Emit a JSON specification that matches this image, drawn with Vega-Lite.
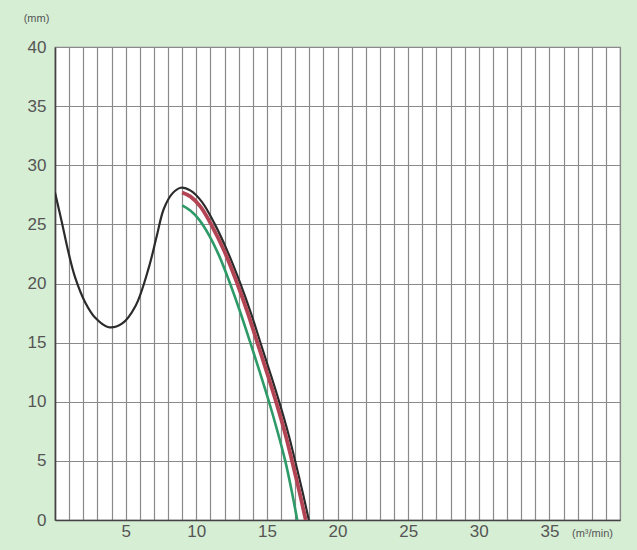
{
  "$schema": "https://vega.github.io/schema/vega-lite/v6.json",
  "autosize": "none",
  "width": 565,
  "height": 473,
  "padding": {"left": 55, "top": 47, "right": 17, "bottom": 30},
  "background": "#d6eed4",
  "config": {
    "view": {"fill": "#ffffff", "stroke": "#8a8a8a", "strokeWidth": 1.2},
    "font": "Liberation Sans"
  },
  "data": {
    "values": [
      {"series": "Black", "x": 0.0, "y": 27.7},
      {"series": "Black", "x": 0.48, "y": 25.2},
      {"series": "Black", "x": 0.96, "y": 22.6},
      {"series": "Black", "x": 1.43, "y": 20.5},
      {"series": "Black", "x": 2.14, "y": 18.4},
      {"series": "Black", "x": 2.85, "y": 17.1},
      {"series": "Black", "x": 3.8, "y": 16.3},
      {"series": "Black", "x": 4.74, "y": 16.6},
      {"series": "Black", "x": 5.7, "y": 18.1},
      {"series": "Black", "x": 6.63, "y": 21.3},
      {"series": "Black", "x": 7.2, "y": 24.0},
      {"series": "Black", "x": 7.7, "y": 26.3},
      {"series": "Black", "x": 8.3, "y": 27.6},
      {"series": "Black", "x": 8.9, "y": 28.1},
      {"series": "Black", "x": 9.6, "y": 27.85},
      {"series": "Black", "x": 10.4, "y": 26.9},
      {"series": "Black", "x": 11.32, "y": 25.0},
      {"series": "Black", "x": 12.22, "y": 22.7},
      {"series": "Black", "x": 13.12, "y": 20.0},
      {"series": "Black", "x": 13.87, "y": 17.5},
      {"series": "Black", "x": 14.57, "y": 14.9},
      {"series": "Black", "x": 15.27, "y": 12.3},
      {"series": "Black", "x": 15.92, "y": 9.8},
      {"series": "Black", "x": 16.52, "y": 7.3},
      {"series": "Black", "x": 17.02, "y": 4.9},
      {"series": "Black", "x": 17.52, "y": 2.4},
      {"series": "Black", "x": 17.97, "y": 0.0},
      {"series": "Red", "x": 9.0, "y": 27.7},
      {"series": "Red", "x": 9.6, "y": 27.35},
      {"series": "Red", "x": 10.3, "y": 26.5},
      {"series": "Red", "x": 11.1, "y": 24.9},
      {"series": "Red", "x": 12.0, "y": 22.7},
      {"series": "Red", "x": 12.9, "y": 20.0},
      {"series": "Red", "x": 13.65, "y": 17.5},
      {"series": "Red", "x": 14.35, "y": 14.9},
      {"series": "Red", "x": 15.05, "y": 12.3},
      {"series": "Red", "x": 15.7, "y": 9.8},
      {"series": "Red", "x": 16.3, "y": 7.3},
      {"series": "Red", "x": 16.8, "y": 4.9},
      {"series": "Red", "x": 17.3, "y": 2.4},
      {"series": "Red", "x": 17.75, "y": 0.0},
      {"series": "Green", "x": 9.0, "y": 26.6},
      {"series": "Green", "x": 9.6, "y": 26.15},
      {"series": "Green", "x": 10.2, "y": 25.4},
      {"series": "Green", "x": 10.9, "y": 24.1},
      {"series": "Green", "x": 11.6, "y": 22.4},
      {"series": "Green", "x": 12.3, "y": 20.3},
      {"series": "Green", "x": 13.05, "y": 17.8},
      {"series": "Green", "x": 13.8, "y": 15.1},
      {"series": "Green", "x": 14.5, "y": 12.5},
      {"series": "Green", "x": 15.15, "y": 10.0},
      {"series": "Green", "x": 15.75, "y": 7.5},
      {"series": "Green", "x": 16.3, "y": 5.0},
      {"series": "Green", "x": 16.75, "y": 2.5},
      {"series": "Green", "x": 17.15, "y": 0.0}
    ]
  },
  "mark": {"type": "line", "interpolate": "catmull-rom", "clip": true},
  "encoding": {
    "x": {
      "field": "x",
      "type": "quantitative",
      "scale": {"domain": [0, 40], "nice": false, "zero": false},
      "axis": {
        "values": [0,1,2,3,4,5,6,7,8,9,10,11,12,13,14,15,16,17,18,19,20,21,22,23,24,25,26,27,28,29,30,31,32,33,34,35,36,37,38,39,40],
        "labelExpr": "(datum.value % 5 == 0 && datum.value > 0 && datum.value < 40) ? datum.label : ''",
        "grid": true,
        "gridColor": "#8a8a8a",
        "gridWidth": 1.2,
        "gridOpacity": 1,
        "ticks": false,
        "domainColor": "#444444",
        "domainWidth": 1.6,
        "labelFontSize": 17,
        "labelColor": "#555555",
        "labelPadding": 3,
        "labelFont": "Liberation Sans",
        "title": "(m³/min)",
        "titleFontSize": 11,
        "titleFontWeight": "normal",
        "titleColor": "#555555",
        "titleAlign": "center",
        "titleBaseline": "middle",
        "titleX": 537,
        "titleY": 13
      }
    },
    "y": {
      "field": "y",
      "type": "quantitative",
      "scale": {"domain": [0, 40], "nice": false},
      "axis": {
        "values": [0, 5, 10, 15, 20, 25, 30, 35, 40],
        "grid": true,
        "gridColor": "#8a8a8a",
        "gridWidth": 1.2,
        "gridOpacity": 1,
        "ticks": false,
        "domainColor": "#444444",
        "domainWidth": 1.6,
        "labelFontSize": 17,
        "labelColor": "#555555",
        "labelPadding": 9,
        "labelFont": "Liberation Sans",
        "title": "(mm)",
        "titleAngle": 0,
        "titleFontSize": 11,
        "titleFontWeight": "normal",
        "titleColor": "#555555",
        "titleAlign": "center",
        "titleBaseline": "middle",
        "titleX": -19,
        "titleY": -29
      }
    },
    "color": {
      "field": "series",
      "type": "nominal",
      "scale": {"domain": ["Black", "Red", "Green"], "range": ["#2b2b2b", "#b24454", "#2e9a68"]},
      "legend": null
    },
    "strokeWidth": {
      "field": "series",
      "type": "nominal",
      "scale": {"type": "ordinal", "domain": ["Black", "Red", "Green"], "range": [2.2, 3.8, 2.6]},
      "legend": null
    }
  }
}
